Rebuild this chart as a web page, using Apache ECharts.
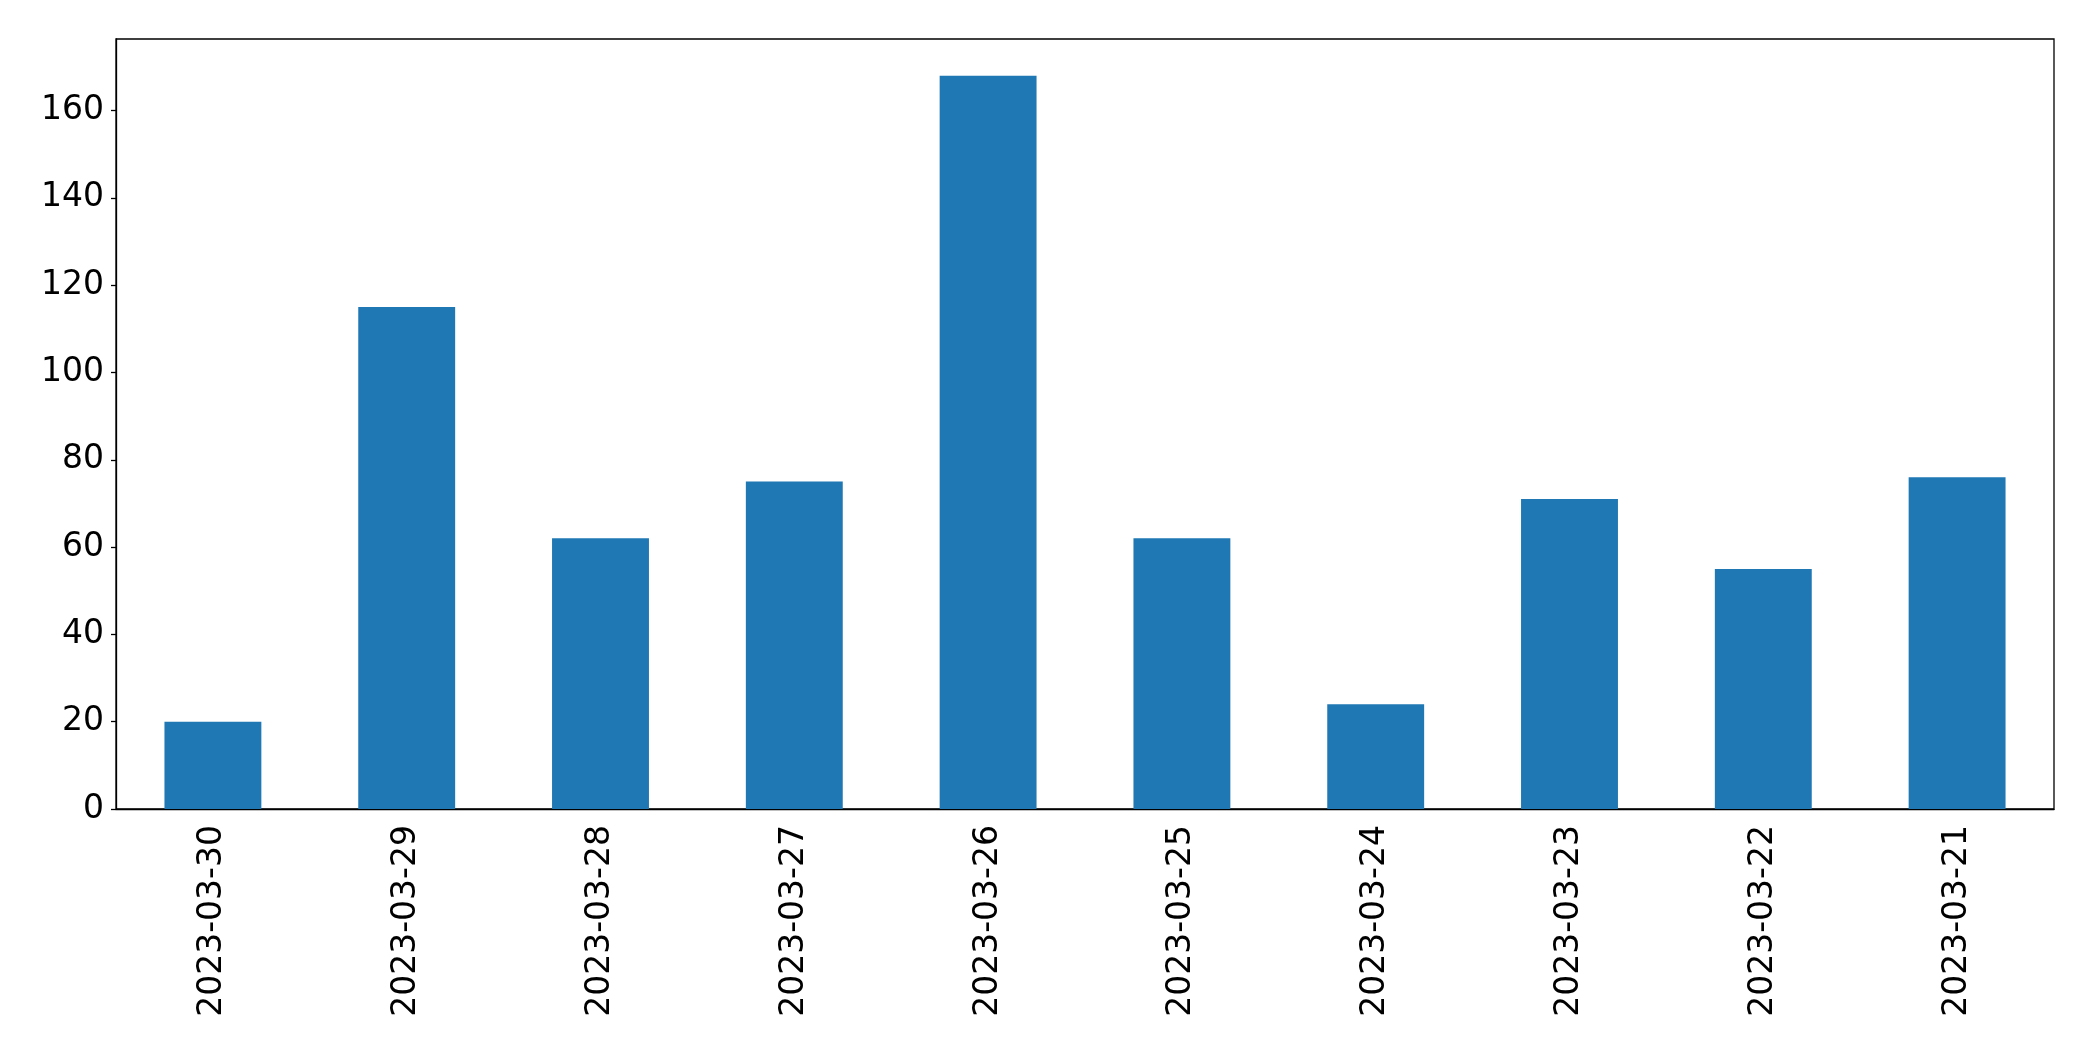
<!DOCTYPE html>
<html>
<head>
<meta charset="utf-8">
<script src="https://cdn.jsdelivr.net/npm/echarts@6/dist/echarts.min.js"></script>
<style>
  html, body { margin: 0; padding: 0; background: #fff; }
  #main { width: 2093px; height: 1061px; }
</style>
</head>
<body>
<div id="main"></div>
<script>
var dates = ['2023-03-30', '2023-03-29', '2023-03-28', '2023-03-27', '2023-03-26',
             '2023-03-25', '2023-03-24', '2023-03-23', '2023-03-22', '2023-03-21'];
var counts = [20, 115, 62, 75, 168, 62, 24, 71, 55, 76];

var chart = echarts.init(document.getElementById('main'));

var font = 'DejaVu Sans';

chart.setOption({
    animation: false,
    backgroundColor: '#fff',
    grid: {
        left: 116,
        right: 39,
        top: 39,
        bottom: 252,
        show: true,
        borderColor: '#000',
        borderWidth: 1.3
    },
    xAxis: {
        type: 'category',
        data: dates,
        boundaryGap: true,
        axisLine: { lineStyle: { color: '#000', width: 1.3 } },
        axisTick: { alignWithLabel: true, length: 5, lineStyle: { color: '#000', width: 1.3 } },
        axisLabel: {
            rotate: 90,
            margin: 16,
            color: '#000',
            fontFamily: font,
            fontSize: 33,
            interval: 0
        }
    },
    yAxis: {
        type: 'value',
        min: 0,
        max: 176.4,
        interval: 20,
        splitLine: { show: false },
        axisLine: { show: true, lineStyle: { color: '#000', width: 1.3 } },
        axisTick: { show: true, length: 5, lineStyle: { color: '#000', width: 1.3 } },
        axisLabel: {
            margin: 12,
            color: '#000',
            fontFamily: font,
            fontSize: 33,
            showMaxLabel: false
        }
    },
    series: [{
        type: 'bar',
        data: counts,
        barWidth: '50%',
        itemStyle: { color: '#1f77b4' }
    }]
});
</script>
</body>
</html>
